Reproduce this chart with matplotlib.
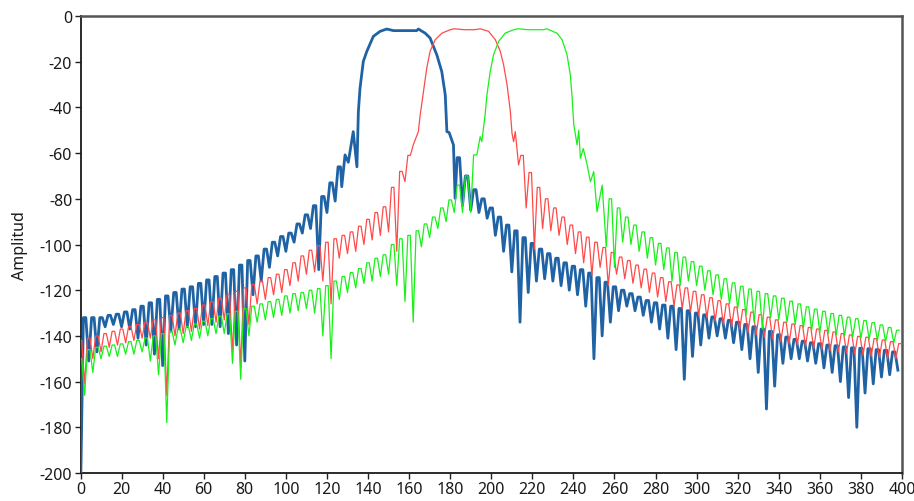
import numpy as np
import matplotlib
matplotlib.use("Agg")
import matplotlib.pyplot as plt

# ---------------- band 1 (blue) ----------------
blue_left_x0 = 0.0
blue_left_troughs = [-210, -151, -147, -136, -135, -136, -137, -141, -144, -148,
                     -153, -138, -137, -136, -136, -135, -135, -136, -139, -144,
                     -151, -122, -116, -110, -105, -103, -99, -95, -93, -111,
                     -86, -81]
blue_left_peaks = [-132, -132, -132, -131, -130.5, -129.5, -128.5, -127, -125.5, -124,
                   -122.5, -121, -119.5, -118.5, -117, -115.5, -114, -112.5, -111, -109,
                   -107, -105, -102, -99, -96.5, -95, -91, -87, -83, -79,
                   -73, -66]
blue_pass_x = [127.2, 128.8, 130.4, 132.8, 134.6, 135.3, 136.1, 137.7, 139.4, 142.6,
               145.9, 149.1, 152.4, 158.0, 163.7, 164.5, 167.8, 170.2, 173.5, 175.9,
               177.6, 178.4, 179.5, 181.6, 182.4]
blue_pass_y = [-74.7, -60.8, -64.0, -50.6, -66.0, -41.8, -31.6, -19.9, -15.5, -8.9,
               -6.7, -5.7, -6.4, -6.4, -6.4, -5.7, -7.5, -9.6, -17.0, -24.3,
               -34.5, -50.6, -51.0, -56.4, -79.8]
blue_right_x0 = 184.0
blue_right_peaks = [-62, -70, -76, -80, -84, -88, -91.5, -94, -97, -99.5,
                    -102, -104, -106, -108, -109.5, -111, -112.5, -114.5, -116.5, -118.5,
                    -120, -121.5, -123, -124.5, -125.5, -126.5, -127, -128, -129, -130,
                    -130.8, -131.7, -132.5, -133.2, -134, -135, -136, -137, -138, -139.5,
                    -140.5, -141.5, -142.3, -143, -143.4, -144, -144.3, -144.8, -145.2, -145.4,
                    -145.6, -146, -146.3, -147]
blue_right_troughs = [-83, -85, -86, -88.5, -96, -103, -112, -134, -121, -116,
                      -115, -116, -118, -120, -122, -127, -150, -140, -134, -129,
                      -127, -129, -131, -134, -137, -141, -146, -159, -149, -144,
                      -141, -140, -141, -143, -146, -150, -156, -172, -162, -152,
                      -150, -150, -151, -152, -154, -156, -160, -167, -180, -165,
                      -161, -158, -157, -155]

# ---------------- band 2 (red) ----------------
red_left_x0 = 0.0
red_left_peaks = [-142, -141, -140, -139, -138, -137, -136, -135, -134, -133,
                  -132, -131, -130, -129, -128, -126.5, -125, -123.5, -122, -120.5,
                  -119, -117.5, -116, -114.5, -113, -111, -108, -105, -102.5, -100.5,
                  -99, -97.5, -96, -94.5, -92, -89, -86, -83.5, -75, -68,
                  -61]
red_left_troughs = [-161, -150, -147, -145, -144, -143, -142, -141, -141, -150,
                    -166, -140, -139, -138, -137, -135.5, -134, -133, -147, -154,
                    -135, -126, -124, -122, -121, -118, -116, -113, -112, -116,
                    -126, -106, -104, -103, -100, -98, -96, -94.5, -103, -72.5,
                    -56.5]
red_pass_x = [164.5, 165.4, 167.0, 168.6, 170.2, 172.7, 176.0, 180.0, 182.0, 187.0,
              192.0, 194.6, 198.7, 202.0, 204.4, 206.0, 207.7, 209.3, 210.1, 210.9,
              211.7, 213.3]
red_pass_y = [-50.6, -43.3, -33.0, -22.8, -15.5, -10.4, -7.5, -6.0, -5.6, -6.0,
              -6.0, -5.6, -6.7, -10.4, -15.5, -21.3, -30.1, -41.8, -51.3, -55.0,
              -50.6, -65.2]
red_right_x0 = 215.0
red_right_peaks = [-61, -68.5, -75, -80, -84, -88, -91.5, -94.5, -96.8, -99,
                   -101.3, -103.5, -105.5, -107, -109, -110.8, -112.5, -114.5, -116.3, -117.7,
                   -119, -120.5, -122, -123.3, -124.6, -126, -127.4, -128.5, -129.6, -130.7,
                   -131.8, -133, -134, -134.8, -135.5, -136.3, -137, -137.6, -138.3, -139,
                   -139.6, -140.2, -140.6, -141.2, -141.8, -142.5, -143.4]
red_right_troughs = [-84, -102, -93, -94, -96, -100, -104, -108, -113.5, -110,
                     -118, -113, -115, -117, -119, -121, -123, -125, -127, -128,
                     -129.5, -131, -132, -133.5, -135, -136, -137, -138.5, -139.5, -140.5,
                     -141.5, -142.5, -143.5, -144, -144.5, -145.5, -146, -146.5, -147, -147.5,
                     -148, -148.5, -149, -149.5, -150, -150]

# ---------------- band 3 (green) ----------------
green_left_x0 = 0.0
green_left_peaks = [-150, -146, -145, -144.5, -144, -143.5, -142.5, -142, -141, -140,
                    -139, -138, -137, -136, -134.8, -133.6, -132.5, -131.4, -130.3, -129.2,
                    -128, -127, -126, -125, -124, -122.5, -121.5, -121, -120, -119.3,
                    -118, -116, -114, -112.3, -110.5, -108, -106, -104.5, -100, -97.5,
                    -96, -94, -91, -88, -84, -80.5, -74, -70]
green_left_troughs = [-166, -156, -150, -149, -149, -148, -148, -147, -151, -157,
                      -178, -144, -143, -142, -141, -140, -139, -139, -152, -159,
                      -140, -134, -133, -132, -131, -130, -129, -128, -130, -140,
                      -150, -124, -121, -119, -117, -116, -114, -113, -118, -125,
                      -134, -101, -97, -93, -90, -86, -86, -86]
green_pass_x = [191.4, 193.0, 194.6, 195.4, 197.0, 197.9, 199.5, 201.1, 203.6, 206.8,
                210.9, 213.0, 218.0, 225.5, 227.0, 232.0, 234.5, 236.9, 238.5, 239.4,
                240.2, 241.0, 241.8, 242.6, 243.4, 244.8, 246.7, 248.3, 249.9, 251.5,
                254.0]
green_pass_y = [-60.8, -60.8, -52.8, -55.0, -43.3, -34.5, -24.3, -17.0, -11.1, -7.5,
                -6.0, -5.6, -6.0, -6.0, -5.6, -7.5, -10.4, -17.0, -25.7, -36.0,
                -47.7, -52.0, -56.4, -50.0, -62.3, -58.0, -65.2, -72.5, -68.1, -85.7,
                -74.0]
green_right_x0 = 256.0
green_right_troughs = [-101, -110, -99, -100, -103, -106, -109, -111, -116, -118,
                       -116, -118, -120, -122, -124, -126, -128, -131, -134, -137,
                       -132, -133, -134, -135, -136.5, -137.5, -138.5, -139, -139.5, -140,
                       -140.5, -141, -141.5, -142, -142.5, -143]
green_right_peaks = [-80, -84, -88, -91.5, -94.5, -97, -99.5, -101.5, -103.5, -105.5,
                     -107.5, -109.5, -111.5, -113.3, -115, -116.8, -118.3, -119.5, -120.5, -121.5,
                     -122.5, -123.5, -124.8, -126, -127.3, -128.3, -129.2, -130.2, -131, -131.8,
                     -132.5, -133.3, -134.2, -135.2, -136.3, -137.5]

x_ticks = list(range(0, 401, 20))
y_ticks = list(range(-200, 1, 20))
y_label = "Amplitud"

CREST = 0.6  # half-width of the flat crest drawn at each sidelobe peak


def ripple_segment(x0, first, second, peaks_first):
    """Alternate two lists of extrema on a 2-unit grid starting at x0;
    sidelobe peaks are drawn as short flat crests."""
    n = len(first) + len(second)
    xs, ys = [], []
    for i in range(n):
        xi = x0 + 2.0 * i
        yi = first[i // 2] if i % 2 == 0 else second[i // 2]
        is_peak = (i % 2 == 0) == peaks_first
        if is_peak:
            xs += [xi - CREST, xi + CREST]
            ys += [yi, yi]
        else:
            xs.append(xi)
            ys.append(yi)
    return xs, ys


def build(left, pass_x, pass_y, right):
    lx, ly = ripple_segment(*left)
    rx, ry = ripple_segment(*right)
    return (np.concatenate([lx, pass_x, rx]),
            np.concatenate([ly, pass_y, ry]))


bx, by = build((blue_left_x0, blue_left_troughs, blue_left_peaks, False),
               blue_pass_x, blue_pass_y,
               (blue_right_x0, blue_right_peaks, blue_right_troughs, True))
rx, ry = build((red_left_x0, red_left_peaks, red_left_troughs, True),
               red_pass_x, red_pass_y,
               (red_right_x0, red_right_peaks, red_right_troughs, True))
gx, gy = build((green_left_x0, green_left_peaks, green_left_troughs, True),
               green_pass_x, green_pass_y,
               (green_right_x0, green_right_troughs, green_right_peaks, False))

plt.rcParams['font.family'] = ['Noto Sans', 'DejaVu Sans']
plt.rcParams['axes.unicode_minus'] = False

fig = plt.figure(figsize=(9.14, 5.02), dpi=100)
ax = fig.add_axes([80.5 / 914, 28 / 502, (902 - 80.5) / 914, (485 - 28) / 502])

ax.plot(bx, by, color='#1f63a5', lw=2.0, solid_joinstyle='round', zorder=3)
ax.plot(rx, ry, color='#ff4a4a', lw=0.9, zorder=4)
ax.plot(gx, gy, color='#19f019', lw=0.9, zorder=5)

ax.set_xlim(0, 400)
ax.set_ylim(-200, 0)
ax.set_xticks(x_ticks)
ax.set_yticks(y_ticks)
ax.tick_params(axis='both', direction='out', length=4, width=1.0,
               color='#222222', labelsize=11.5, labelcolor='#1a1a1a', pad=2)

for side in ('left', 'bottom'):
    ax.spines[side].set_color('#1a1a1a')
    ax.spines[side].set_linewidth(1.3)
for side in ('top', 'right'):
    ax.spines[side].set_color('#555555')
    ax.spines[side].set_linewidth(1.8)

ax.set_ylabel(y_label, fontsize=11.5, color='#1a1a1a')
ax.yaxis.set_label_coords(-0.064, 0.5)

fig.savefig("out.png", dpi=100)
